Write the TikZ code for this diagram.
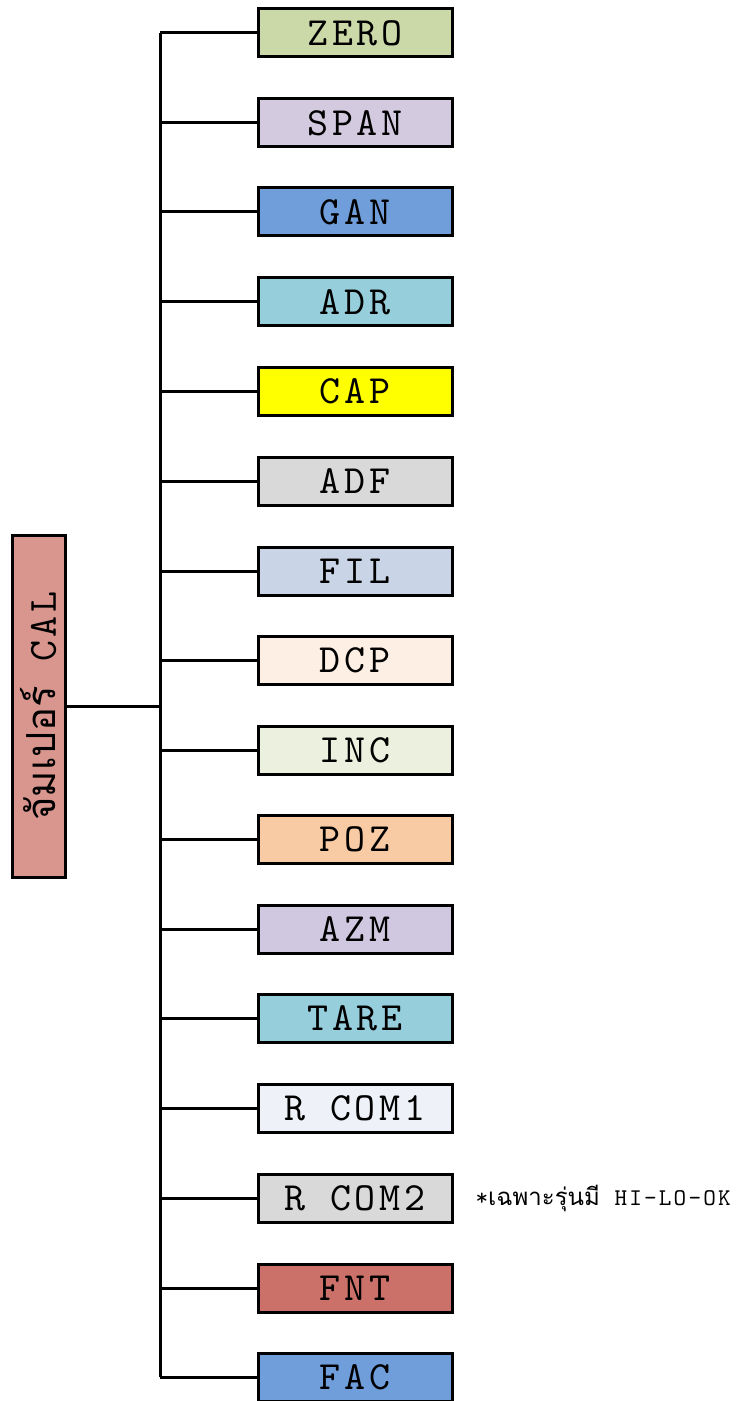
\documentclass[tikz,border=0pt]{standalone}
\usepackage{fontspec}
\usepackage{xcolor}
\usepackage{tikz}
\usetikzlibrary{positioning}
\newfontfamily\boxfont{lmmono10-regular.otf}[LetterSpace=9]
\newfontfamily\thaifont[Script=Thai]{Loma}

\definecolor{cZero}{HTML}{CBD9A9}
\definecolor{cSpan}{HTML}{D3CAE0}
\definecolor{cGan}{HTML}{6F9EDB}
\definecolor{cAdr}{HTML}{96CEDC}
\definecolor{cCap}{HTML}{FFFF00}
\definecolor{cAdf}{HTML}{D9D9D9}
\definecolor{cFil}{HTML}{C9D5E6}
\definecolor{cDcp}{HTML}{FDEFE4}
\definecolor{cInc}{HTML}{EBF0DF}
\definecolor{cPoz}{HTML}{F9CBA5}
\definecolor{cAzm}{HTML}{D0C8E0}
\definecolor{cTare}{HTML}{96CEDC}
\definecolor{cComa}{HTML}{EEF2F8}
\definecolor{cComb}{HTML}{D9D9D9}
\definecolor{cFnt}{HTML}{CC716A}
\definecolor{cFac}{HTML}{6F9EDB}
\definecolor{cCal}{HTML}{D9968F}

\begin{document}
\begin{tikzpicture}[x=0.5pt, y=-0.5pt, line width=1.5pt,
	menubox/.style={font=\boxfont\fontsize{20}{24}\selectfont, draw, minimum width=97pt, minimum height=24pt, inner sep=0, align=center},
	calbox/.style={font=\boxfont\fontsize{20}{24}\selectfont, draw, rotate=90, minimum width=171pt, minimum height=26.5pt, inner sep=0, align=center, fill=cCal},
	note/.style={font=\boxfont\fontsize{12}{14}\selectfont, inner sep=0, anchor=west}
]
\useasboundingbox (0,0) rectangle (743,1401);

\node[calbox] (cal) at (38.5,706) {{\thaifont จัมเปอร์} CAL};
\coordinate (trunk) at (160,706);

\node[menubox, fill=cZero] (b1) at (355,33) {ZERO};
\node[menubox, fill=cSpan] (b2) at (355,123) {SPAN};
\node[menubox, fill=cGan] (b3) at (355,212) {GAN};
\node[menubox, fill=cAdr] (b4) at (355,302) {ADR};
\node[menubox, fill=cCap] (b5) at (355,391) {CAP};
\node[menubox, fill=cAdf] (b6) at (355,481) {ADF};
\node[menubox, fill=cFil] (b7) at (355,571) {FIL};
\node[menubox, fill=cDcp] (b8) at (355,660) {DCP};
\node[menubox, fill=cInc] (b9) at (355,750) {INC};
\node[menubox, fill=cPoz] (b10) at (355,839) {POZ};
\node[menubox, fill=cAzm] (b11) at (355,929) {AZM};
\node[menubox, fill=cTare] (b12) at (355,1018) {TARE};
\node[menubox, fill=cComa] (b13) at (355,1108) {R COM1};
\node[menubox, fill=cComb] (b14) at (355,1198) {R COM2};
\node[menubox, fill=cFnt] (b15) at (355,1288) {FNT};
\node[menubox, fill=cFac] (b16) at (355,1377) {FAC};

\node[note] (n14) at (474,1198) {*{\thaifont เฉพาะรุ่นมี} HI-LO-OK};

\draw (cal) -- (trunk);
\draw (b1.west -| trunk) -- (b16.west -| trunk);
\draw (b1) -- (b1.west -| trunk);
\draw (b2) -- (b2.west -| trunk);
\draw (b3) -- (b3.west -| trunk);
\draw (b4) -- (b4.west -| trunk);
\draw (b5) -- (b5.west -| trunk);
\draw (b6) -- (b6.west -| trunk);
\draw (b7) -- (b7.west -| trunk);
\draw (b8) -- (b8.west -| trunk);
\draw (b9) -- (b9.west -| trunk);
\draw (b10) -- (b10.west -| trunk);
\draw (b11) -- (b11.west -| trunk);
\draw (b12) -- (b12.west -| trunk);
\draw (b13) -- (b13.west -| trunk);
\draw (b14) -- (b14.west -| trunk);
\draw (b15) -- (b15.west -| trunk);
\draw (b16) -- (b16.west -| trunk);
\end{tikzpicture}
\end{document}
